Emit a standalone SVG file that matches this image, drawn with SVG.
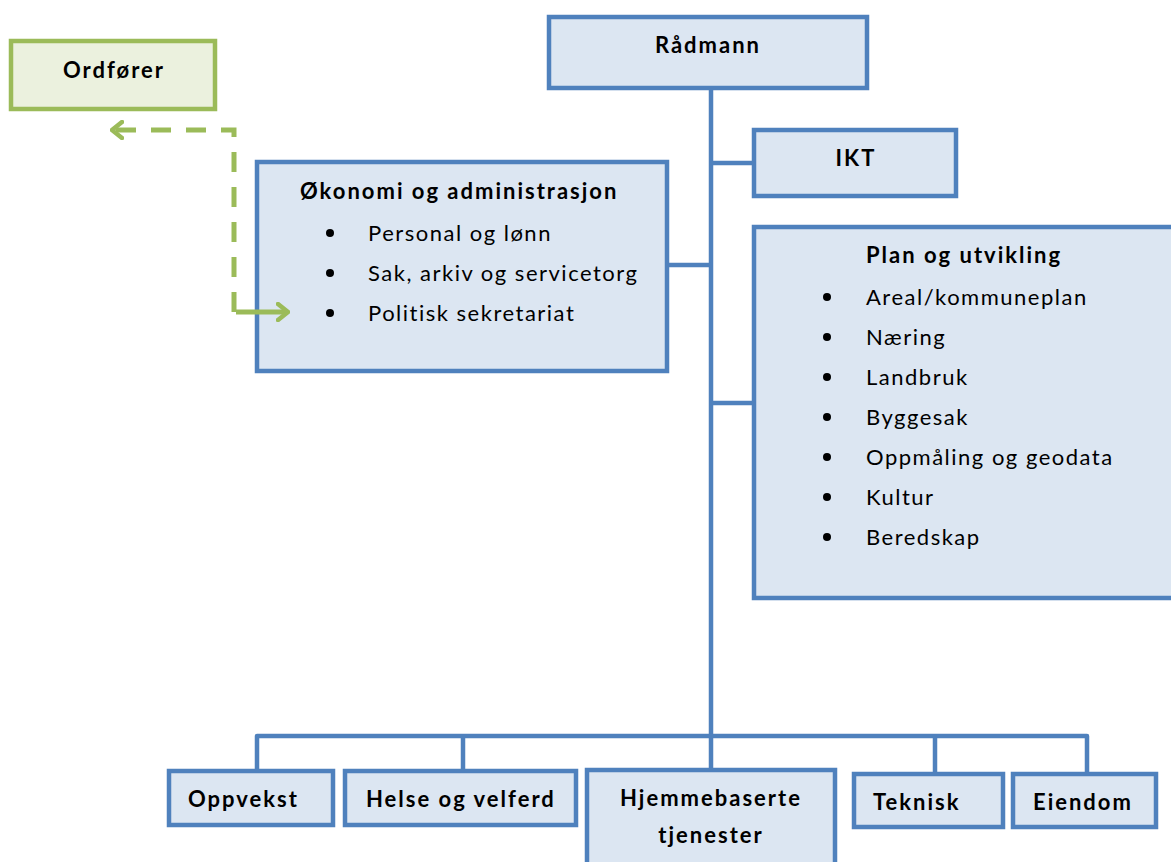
<svg xmlns="http://www.w3.org/2000/svg" width="1171" height="862" viewBox="0 0 1171 862">
<style>
.box{fill:#DCE6F2;stroke:#4F81BD;stroke-width:4.5}
.gbox{fill:#EBF1DE;stroke:#9BBB59;stroke-width:4.5}
.line{fill:none;stroke:#4F81BD;stroke-width:4.5;stroke-linejoin:round}
.dash{fill:none;stroke:#9BBB59;stroke-width:5;stroke-dasharray:20 15}
text{font-family:Lato,"Open Sans","Liberation Sans",sans-serif;fill:#000;font-size:22px}
.b{font-weight:bold;letter-spacing:2px}
.r{letter-spacing:1.5px}
.c{text-anchor:middle}
</style>
<defs>
<marker id="chev" viewBox="0 0 14 20" refX="12" refY="10" markerWidth="14" markerHeight="20" markerUnits="userSpaceOnUse" orient="auto-start-reverse">
<path d="M2 2 L12 10 L2 18" fill="none" stroke="#9BBB59" stroke-width="4.5" stroke-linecap="round" stroke-linejoin="round"/>
</marker>
</defs>
<rect width="1171" height="862" fill="#fff"/>
<g id="ordforer">
<rect class="gbox" x="11" y="41" width="204" height="68"/>
<text class="b c" x="114" y="78">Ordfører</text>
</g>
<g id="radmann">
<rect class="box" x="549" y="17" width="318" height="71"/>
<text class="b c" x="708" y="53">Rådmann</text>
</g>
<g id="ikt">
<rect class="box" x="754" y="130" width="202" height="66"/>
<text class="b c" x="856" y="166">IKT</text>
</g>
<g id="okonomi">
<rect class="box" x="257" y="162" width="410" height="209"/>
<text class="b" x="300" y="199">Økonomi og administrasjon</text>
<circle cx="330" cy="233" r="4"/>
<text class="r" x="368" y="241">Personal og lønn</text>
<circle cx="330" cy="273" r="4"/>
<text class="r" x="368" y="281">Sak, arkiv og servicetorg</text>
<circle cx="330" cy="313" r="4"/>
<text class="r" x="368" y="321">Politisk sekretariat</text>
</g>
<g id="plan">
<rect class="box" x="754" y="227" width="430" height="371"/>
<text class="b" x="866" y="263">Plan og utvikling</text>
<circle cx="827" cy="297" r="4"/>
<text class="r" x="866" y="305">Areal/kommuneplan</text>
<circle cx="827" cy="337" r="4"/>
<text class="r" x="866" y="345">Næring</text>
<circle cx="827" cy="377" r="4"/>
<text class="r" x="866" y="385">Landbruk</text>
<circle cx="827" cy="417" r="4"/>
<text class="r" x="866" y="425">Byggesak</text>
<circle cx="827" cy="457" r="4"/>
<text class="r" x="866" y="465">Oppmåling og geodata</text>
<circle cx="827" cy="497" r="4"/>
<text class="r" x="866" y="505">Kultur</text>
<circle cx="827" cy="537" r="4"/>
<text class="r" x="866" y="545">Beredskap</text>
</g>
<g id="oppvekst">
<rect class="box" x="169" y="771" width="164" height="54"/>
<text class="b" x="188" y="807">Oppvekst</text>
</g>
<g id="helse">
<rect class="box" x="345" y="771" width="231" height="54"/>
<text class="b" x="366" y="807">Helse og velferd</text>
</g>
<g id="hjemme">
<rect class="box" x="587" y="770" width="248" height="100"/>
<text class="b c" x="711" y="806">Hjemmebaserte</text>
<text class="b c" x="711" y="843">tjenester</text>
</g>
<g id="teknisk">
<rect class="box" x="854" y="774" width="149" height="53"/>
<text class="b" x="873" y="810">Teknisk</text>
</g>
<g id="eiendom">
<rect class="box" x="1013" y="774" width="143" height="53"/>
<text class="b" x="1033" y="810">Eiendom</text>
</g>
<g id="connectors">
<path class="line" d="M711 90 V768"/>
<path class="line" d="M711 163 H752"/>
<path class="line" d="M669 265 H711"/>
<path class="line" d="M711 403 H752"/>
<path class="line" d="M257 769 V736 H1087 V772"/>
<path class="line" d="M463 736 V769"/>
<path class="line" d="M935 736 V772"/>
<path class="dash" d="M234 312 V130 H112" marker-end="url(#chev)"/>
<path fill="none" stroke="#9BBB59" stroke-width="5" d="M236 312 H288" marker-end="url(#chev)"/>
</g>
</svg>
